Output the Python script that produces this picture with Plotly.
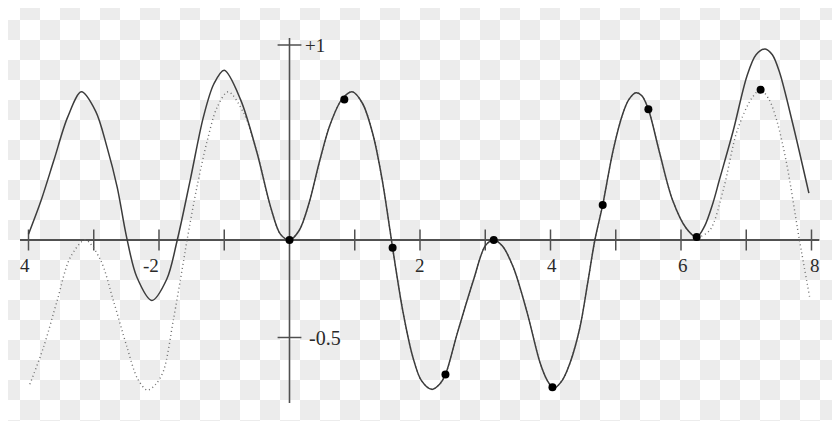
import plotly.graph_objects as go

# ---- data ----
solid_x = [-4.00, -3.81, -3.61, -3.40, -3.19, -2.97, -2.80, -2.64, -2.50, -2.34, -2.11, -1.88,
           -1.72, -1.52, -1.32, -1.16, -1.00, -0.75, -0.50, -0.29, -0.14, 0.00, 0.15, 0.30,
           0.45, 0.62, 0.80, 0.96, 1.12, 1.28, 1.42, 1.54, 1.58, 1.74, 1.89, 2.02, 2.18, 2.30,
           2.39, 2.57, 2.82, 3.00, 3.13, 3.26, 3.43, 3.64, 3.84, 3.95, 4.05, 4.18, 4.30, 4.45,
           4.57, 4.68, 4.80, 4.96, 5.11, 5.20, 5.31, 5.40, 5.50, 5.67, 5.87, 6.08, 6.24, 6.36,
           6.49, 6.59, 6.80, 7.01, 7.15, 7.29, 7.40, 7.51, 7.71, 7.96]
solid_y = [0.03, 0.20, 0.41, 0.63, 0.76, 0.66, 0.48, 0.27, 0.02, -0.19, -0.31, -0.20,
           0.00, 0.31, 0.63, 0.80, 0.87, 0.72, 0.45, 0.17, 0.03, 0.00, 0.05, 0.19,
           0.39, 0.59, 0.72, 0.76, 0.70, 0.54, 0.31, 0.05, -0.04, -0.37, -0.60, -0.72, -0.766, -0.74,
           -0.69, -0.48, -0.205, -0.03, 0.00, -0.03, -0.14, -0.37, -0.63, -0.72, -0.76, -0.72, -0.63, -0.45,
           -0.22, 0.00, 0.18, 0.46, 0.65, 0.72, 0.755, 0.74, 0.67, 0.45, 0.205, 0.06, 0.015, 0.07,
           0.19, 0.31, 0.56, 0.84, 0.95, 0.98, 0.95, 0.86, 0.60, 0.24]

dotted_left_x = [-3.98, -3.77, -3.56, -3.36, -3.13, -2.90, -2.70, -2.49, -2.33, -2.18, -2.05,
                 -1.93, -1.78, -1.64, -1.57, -1.42, -1.26, -1.11, -0.94, -0.70]
dotted_left_y = [-0.74, -0.55, -0.31, -0.09, 0.00, -0.10, -0.31, -0.55, -0.71, -0.77, -0.74,
                 -0.67, -0.41, -0.14, 0.00, 0.27, 0.51, 0.68, 0.76, 0.65]
dotted_right_x = [6.44, 6.65, 6.86, 7.09, 7.22, 7.35, 7.47, 7.62, 7.81, 7.97]
dotted_right_y = [0.05, 0.26, 0.56, 0.73, 0.77, 0.72, 0.61, 0.39, 0.01, -0.29]

points_x = [0.00, 0.84, 1.58, 2.39, 3.13, 4.03, 4.80, 5.50, 6.24, 7.22]
points_y = [0.00, 0.72, -0.04, -0.69, 0.00, -0.755, 0.18, 0.67, 0.015, 0.77]

x_tick_vals = [-4, -3, -2, -1, 1, 2, 3, 4, 5, 6, 7, 8]
x_label_vals = [-4, -2, 2, 4, 6, 8]
x_label_text = ["4", "-2", "2", "4", "6", "8"]
y_tick_vals = [1, -0.5]
y_label_text = ["+1", "-0.5"]

axis_x_extent = [-4.13, 8.12]
axis_y_extent = [-0.836, 1.036]

# ---- build dotted curve: left part, shared middle, right part ----
mid = [(x, y) for x, y in zip(solid_x, solid_y) if -0.5 <= x <= 6.24]
dotted_x = dotted_left_x + [m[0] for m in mid] + dotted_right_x
dotted_y = dotted_left_y + [m[1] for m in mid] + dotted_right_y

AXIS_COLOR = "#505050"
CURVE_COLOR = "#3c3c3c"
TEXT_COLOR = "#2a2a2a"
FONT = "Liberation Serif, Times New Roman, serif"

fig = go.Figure()

# axes drawn through the data scale
fig.add_trace(go.Scatter(x=axis_x_extent, y=[0, 0], mode="lines",
                         line=dict(color=AXIS_COLOR, width=2), hoverinfo="skip"))
fig.add_trace(go.Scatter(x=[0, 0], y=axis_y_extent, mode="lines",
                         line=dict(color=AXIS_COLOR, width=1.6), hoverinfo="skip"))
fig.add_trace(go.Scatter(x=x_tick_vals, y=[0] * len(x_tick_vals), mode="markers",
                         marker=dict(symbol="line-ns", size=15,
                                     line=dict(color=AXIS_COLOR, width=1.5)),
                         hoverinfo="skip"))
fig.add_trace(go.Scatter(x=[0] * len(y_tick_vals), y=y_tick_vals, mode="markers",
                         marker=dict(symbol="line-ew", size=17,
                                     line=dict(color=AXIS_COLOR, width=1.5)),
                         hoverinfo="skip"))

fig.add_trace(go.Scatter(x=dotted_x, y=dotted_y, mode="lines",
                         line=dict(color="#6e6e6e", width=1.4, dash="1px,3px", shape="spline",
                                   smoothing=0.9)))
fig.add_trace(go.Scatter(x=solid_x, y=solid_y, mode="lines",
                         line=dict(color=CURVE_COLOR, width=1.5, shape="spline", smoothing=0.9)))
fig.add_trace(go.Scatter(x=points_x, y=points_y, mode="markers",
                         marker=dict(color="black", size=8)))

x_shifts = [-4, -8, 0, 1, 2, 3]
annotations = []
for v, t, s in zip(x_label_vals, x_label_text, x_shifts):
    annotations.append(dict(x=v, y=0, xref="x", yref="y", text=t, showarrow=False,
                            xanchor="center", yanchor="middle", xshift=s, yshift=-25,
                            font=dict(family=FONT, size=19, color=TEXT_COLOR)))
y_shifts = [13, 17]
y_sizes = [19, 20]
for v, t, s, fs in zip(y_tick_vals, y_label_text, y_shifts, y_sizes):
    annotations.append(dict(x=0, y=v, xref="x", yref="y", text=t, showarrow=False,
                            xanchor="left", yanchor="middle", xshift=s,
                            font=dict(family=FONT, size=fs, color=TEXT_COLOR)))

W, H = 840, 421
OFF = 8       # default page margin of the browser body
CELL = 20

# checkerboard backdrop (transparency pattern seen in the reference), one path in paper units,
# aligned to the browser window (the figure itself sits OFF px from the window corner)
segs = []
for r in range(-1, H // CELL + 2):
    for c in range(-1, W // CELL + 2):
        if (r + c) % 2 == 1:
            fx0 = max(c * CELL - OFF, 0)
            fx1 = min((c + 1) * CELL - OFF, W)
            fy0 = max(r * CELL - OFF, 0)
            fy1 = min((r + 1) * CELL - OFF, H)
            if fx1 <= fx0 or fy1 <= fy0:
                continue
            segs.append(f"M{fx0 / W:.5f},{1 - fy0 / H:.5f}H{fx1 / W:.5f}"
                        f"V{1 - fy1 / H:.5f}H{fx0 / W:.5f}Z")
checker = dict(type="path", xref="paper", yref="paper", path="".join(segs),
               fillcolor="#ececec", line=dict(width=0), layer="below")

px_per_x = 65.25
x0_px = 289.5 - OFF
px_per_y = 195.0
y0_px = 240.0 - OFF

fig.update_layout(
    width=W, height=H,
    margin=dict(l=0, r=0, t=0, b=0),
    paper_bgcolor="white",
    plot_bgcolor="rgba(0,0,0,0)",
    showlegend=False,
    xaxis=dict(range=[-x0_px / px_per_x, (W - x0_px) / px_per_x], visible=False,
               showgrid=False, zeroline=False, fixedrange=True),
    yaxis=dict(range=[-(H - y0_px) / px_per_y, y0_px / px_per_y], visible=False,
               showgrid=False, zeroline=False, fixedrange=True),
    annotations=annotations,
    shapes=[checker],
)

fig.write_html("out.html", config={"displayModeBar": False})
